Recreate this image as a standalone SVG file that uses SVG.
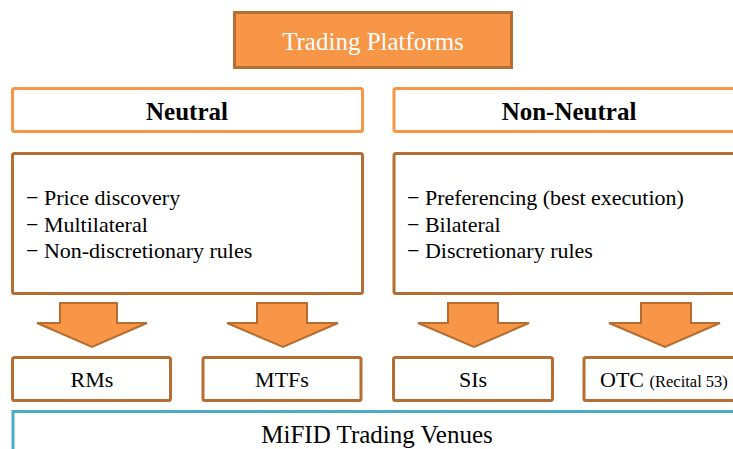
<svg xmlns="http://www.w3.org/2000/svg" width="733" height="449" viewBox="0 0 733 449">
<style>
text{font-family:"Liberation Serif","Times New Roman",serif;fill:#000}
.dark{fill:#fff;stroke:#b66d31;stroke-width:3}
.light{fill:#fff;stroke:#f79646;stroke-width:3}
.arrow{fill:#f79646;stroke:#b66d31;stroke-width:2;stroke-linejoin:miter}
.head{font-size:25px;font-weight:bold;text-anchor:middle}
.bul{font-size:22px}
.lab{font-size:22px;text-anchor:middle}
</style>
<rect width="733" height="449" fill="#fff"/>
<g id="trading-platforms">
<rect x="234.5" y="12.5" width="277" height="55" fill="#f79646" stroke="#b66d31" stroke-width="3"/>
<text x="373" y="50" style="font-size:25px;fill:#fff;text-anchor:middle">Trading Platforms</text>
</g>
<g id="neutral">
<rect class="light" x="12.5" y="88.5" width="350" height="43" rx="2"/>
<text class="head" x="187" y="120">Neutral</text>
</g>
<g id="non-neutral">
<rect class="light" x="394" y="88.5" width="350" height="43" rx="2"/>
<text class="head" x="569" y="120">Non-Neutral</text>
</g>
<g id="neutral-features">
<rect class="dark" x="12.5" y="153.5" width="350" height="140" rx="2"/>
<text class="bul" x="26" y="205">− Price discovery</text>
<text class="bul" x="26" y="232">− Multilateral</text>
<text class="bul" x="26" y="258">− Non-discretionary rules</text>
</g>
<g id="non-neutral-features">
<rect class="dark" x="394" y="153.5" width="350" height="140" rx="2"/>
<text class="bul" x="407" y="205">− Preferencing (best execution)</text>
<text class="bul" x="407" y="232">− Bilateral</text>
<text class="bul" x="407" y="258">− Discretionary rules</text>
</g>
<g id="connectors">
<polygon class="arrow" points="60,303 117,303 117,323 147,323 92,347 37,323 60,323"/>
<polygon class="arrow" points="257,303 307,303 307,323 338,323 283,347 227,323 257,323"/>
<polygon class="arrow" points="448,303 498,303 498,323 529,323 474,347 418,323 448,323"/>
<polygon class="arrow" points="641,303 691,303 691,323 720,323 665,347 609,323 641,323"/>
</g>
<g id="rms">
<rect class="dark" x="12.5" y="357.5" width="158" height="43" rx="2"/>
<text class="lab" x="92" y="387">RMs</text>
</g>
<g id="mtfs">
<rect class="dark" x="203" y="357.5" width="158" height="43" rx="2"/>
<text class="lab" x="282" y="387">MTFs</text>
</g>
<g id="sis">
<rect class="dark" x="393.5" y="357.5" width="159" height="43" rx="2"/>
<text class="lab" x="473" y="387">SIs</text>
</g>
<g id="otc">
<rect class="dark" x="584" y="357.5" width="160" height="43" rx="2"/>
<text x="600" y="387" style="font-size:22px">OTC <tspan style="font-size:16.5px">(Recital 53)</tspan></text>
</g>
<g id="mifid-trading-venues">
<rect x="13" y="411.5" width="730" height="60" fill="#fff" stroke="#4bacc6" stroke-width="3"/>
<text x="377" y="443" style="font-size:25px;text-anchor:middle">MiFID Trading Venues</text>
</g>
</svg>
